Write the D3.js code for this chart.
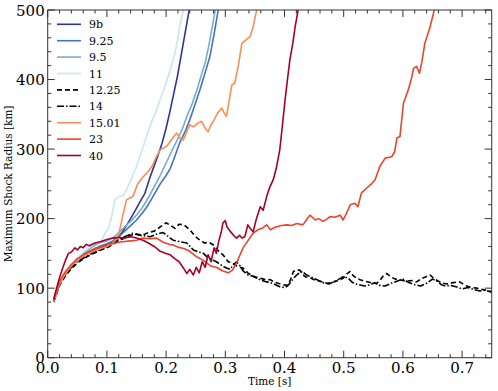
<!DOCTYPE html>
<html><head><meta charset="utf-8">
<script src="https://cdn.jsdelivr.net/npm/d3@7"></script>
<style>body{margin:0;background:#fff}svg{display:block}text{font-family:"DejaVu Serif",serif;fill:#000}</style>
</head><body><svg id="c" width="498" height="391"></svg>
<script>
const seriesNames = ["9b","9.25","9.5","11","12.25","14","15.01","23","40"];
const seriesColors = ["#313695","#4575b4","#74add1","#c6e6f1","#000000","#000000","#f98e52","#e8432e","#a50026"];
const seriesDash = [null,null,null,null,"5,3","7,2,1.5,2",null,null,null];
const xTicks = [0,0.1,0.2,0.3,0.4,0.5,0.6,0.7];
const yTicks = [0,100,200,300,400,500];

const s9b = [[0.010,82],[0.015,95],[0.02,108],[0.03,122],[0.04,133],[0.05,141],[0.06,147],[0.07,151],[0.08,155],[0.09,158],[0.10,162],[0.11,166],[0.12,174],[0.13,186],[0.14,200],[0.148,212],[0.157,226],[0.164,236],[0.173,260],[0.183,283],[0.193,308],[0.2,330],[0.207,356],[0.213,380],[0.219,404],[0.224,428],[0.229,452],[0.234,476],[0.239,500]];
const s925 = [[0.01,81],[0.015,93],[0.02,106],[0.03,121],[0.04,132],[0.05,140],[0.06,147],[0.07,152],[0.08,157],[0.09,161],[0.1,164],[0.11,168],[0.12,174],[0.13,182],[0.14,190],[0.15,198],[0.16,208],[0.17,220],[0.18,235],[0.19,250],[0.2,262],[0.207,272],[0.215,290],[0.223,309],[0.232,325],[0.24,342],[0.248,362],[0.257,385],[0.266,410],[0.274,433],[0.281,465],[0.288,500]];
const s95 = [[0.01,80],[0.015,94],[0.02,107],[0.03,122],[0.04,134],[0.05,143],[0.06,150],[0.07,156],[0.08,162],[0.09,166],[0.1,168],[0.11,172],[0.12,180],[0.13,188],[0.14,196],[0.15,205],[0.16,216],[0.17,230],[0.18,246],[0.19,262],[0.2,280],[0.21,298],[0.22,315],[0.228,330],[0.235,347],[0.244,365],[0.252,385],[0.259,405],[0.266,424],[0.272,448],[0.278,476],[0.283,500]];
const s11 = [[0.01,80],[0.015,94],[0.02,107],[0.03,122],[0.04,134],[0.05,143],[0.06,152],[0.07,158],[0.08,165],[0.09,167],[0.097,179],[0.103,186],[0.108,203],[0.114,228],[0.122,232],[0.128,233],[0.133,241],[0.14,255],[0.15,275],[0.158,295],[0.167,318],[0.175,338],[0.184,356],[0.19,372],[0.198,390],[0.207,414],[0.215,438],[0.219,455],[0.223,476],[0.229,500]];
const s1225 = [[0.01,80],[0.015,92],[0.02,104],[0.03,118],[0.04,128],[0.05,136],[0.06,142],[0.07,147],[0.08,151],[0.09,155],[0.1,158],[0.11,163],[0.12,168],[0.13,172],[0.14,176],[0.15,178],[0.16,176],[0.17,180],[0.18,182],[0.19,188],[0.2,194],[0.208,190],[0.215,186],[0.222,192],[0.23,191],[0.24,184],[0.25,174],[0.257,169],[0.265,165],[0.272,166],[0.28,162],[0.29,152],[0.296,148],[0.305,138],[0.313,136],[0.32,131],[0.33,129],[0.338,122],[0.347,117],[0.355,115],[0.365,113],[0.376,112],[0.385,108],[0.398,105],[0.405,104],[0.41,112],[0.415,124],[0.42,126],[0.426,126],[0.43,120],[0.436,116],[0.443,115],[0.45,112],[0.46,110],[0.471,107],[0.48,108],[0.494,112],[0.5,115],[0.506,121],[0.511,124],[0.516,118],[0.522,114],[0.528,112],[0.536,110],[0.545,108],[0.556,107],[0.562,112],[0.567,118],[0.573,121],[0.58,116],[0.587,113],[0.595,112],[0.605,110],[0.615,111],[0.623,109],[0.632,114],[0.638,116],[0.646,119],[0.652,114],[0.66,110],[0.668,107],[0.675,106],[0.685,108],[0.696,109],[0.705,104],[0.715,101],[0.725,100],[0.735,98],[0.745,96],[0.75,95]];
const s14 = [[0.01,80],[0.015,93],[0.02,106],[0.03,120],[0.04,130],[0.05,138],[0.06,143],[0.07,148],[0.08,152],[0.09,156],[0.1,160],[0.11,165],[0.12,170],[0.13,174],[0.144,179],[0.155,176],[0.165,175],[0.173,174],[0.185,178],[0.195,180],[0.207,172],[0.212,169],[0.222,167],[0.235,165],[0.246,155],[0.255,152],[0.263,150],[0.269,145],[0.277,141],[0.285,138],[0.295,132],[0.302,129],[0.308,127],[0.313,133],[0.319,138],[0.325,132],[0.33,125],[0.338,119],[0.347,117],[0.359,112],[0.37,109],[0.38,107],[0.392,102],[0.4,101],[0.405,103],[0.41,108],[0.416,115],[0.422,120],[0.43,124],[0.437,119],[0.445,116],[0.455,112],[0.465,108],[0.475,106],[0.485,110],[0.492,113],[0.5,117],[0.508,114],[0.515,108],[0.525,105],[0.535,103],[0.545,105],[0.552,108],[0.56,104],[0.57,103],[0.58,107],[0.59,110],[0.6,113],[0.61,108],[0.62,105],[0.63,103],[0.64,107],[0.65,113],[0.658,110],[0.665,105],[0.672,103],[0.68,104],[0.69,102],[0.7,99],[0.71,101],[0.72,98],[0.73,96],[0.74,97],[0.75,94]];
const s1501 = [[0.01,80],[0.015,93],[0.02,106],[0.03,121],[0.04,132],[0.05,140],[0.06,146],[0.07,150],[0.08,154],[0.09,157],[0.1,160],[0.11,165],[0.118,172],[0.122,185],[0.127,205],[0.133,227],[0.14,230],[0.144,232],[0.152,250],[0.161,260],[0.168,266],[0.176,275],[0.183,288],[0.19,299],[0.201,304],[0.208,312],[0.213,318],[0.218,323],[0.224,315],[0.229,313],[0.235,325],[0.24,335],[0.246,332],[0.253,337],[0.26,340],[0.266,330],[0.271,325],[0.276,335],[0.28,340],[0.287,352],[0.294,359],[0.298,352],[0.302,347],[0.307,372],[0.311,392],[0.316,395],[0.322,420],[0.328,452],[0.335,457],[0.342,462],[0.347,476],[0.353,500]];
const s23 = [[0.01,82],[0.015,96],[0.02,110],[0.03,124],[0.04,134],[0.05,142],[0.06,148],[0.07,153],[0.08,157],[0.09,160],[0.1,163],[0.11,164],[0.12,166],[0.13,167],[0.14,168],[0.15,169],[0.161,172],[0.172,171],[0.184,172],[0.195,166],[0.205,163],[0.212,162],[0.22,159],[0.23,157],[0.24,153],[0.25,146],[0.263,140],[0.275,132],[0.285,130],[0.295,125],[0.305,122],[0.312,126],[0.319,136],[0.325,148],[0.33,158],[0.338,168],[0.347,179],[0.355,184],[0.362,186],[0.37,191],[0.376,184],[0.385,188],[0.395,190],[0.404,191],[0.412,190],[0.421,193],[0.431,191],[0.437,198],[0.443,205],[0.452,198],[0.458,200],[0.465,196],[0.471,199],[0.477,203],[0.485,202],[0.494,205],[0.499,198],[0.505,208],[0.511,220],[0.519,222],[0.524,217],[0.53,237],[0.539,244],[0.547,250],[0.553,256],[0.561,275],[0.57,287],[0.581,289],[0.586,296],[0.59,316],[0.595,318],[0.601,366],[0.609,385],[0.614,400],[0.618,416],[0.623,419],[0.628,409],[0.632,425],[0.637,452],[0.646,476],[0.653,500]];
const s40 = [[0.01,84],[0.015,100],[0.02,115],[0.025,128],[0.03,140],[0.035,150],[0.04,152],[0.046,158],[0.05,155],[0.055,160],[0.06,158],[0.065,163],[0.07,161],[0.08,165],[0.09,167],[0.1,170],[0.11,172],[0.12,173],[0.13,172],[0.14,174],[0.15,172],[0.161,169],[0.17,165],[0.18,160],[0.19,153],[0.2,150],[0.207,148],[0.215,142],[0.222,138],[0.23,128],[0.235,121],[0.24,127],[0.246,119],[0.251,130],[0.256,122],[0.261,138],[0.266,130],[0.271,148],[0.276,138],[0.281,158],[0.285,150],[0.289,168],[0.293,180],[0.296,194],[0.3,197],[0.303,188],[0.308,182],[0.314,176],[0.319,172],[0.324,176],[0.328,172],[0.333,174],[0.338,191],[0.342,186],[0.347,181],[0.352,198],[0.359,217],[0.364,212],[0.37,232],[0.375,245],[0.381,256],[0.386,272],[0.392,299],[0.396,330],[0.401,371],[0.405,400],[0.409,428],[0.414,452],[0.418,476],[0.423,500]];
const seriesData = [s9b,s925,s95,s11,s1225,s14,s1501,s23,s40];

const svg = d3.select("#c");
const L = 47.7, R = 491.7, T = 10, B = 357.7;
const x = d3.scaleLinear().domain([0,0.75]).range([L,R]);
const y = d3.scaleLinear().domain([0,500]).range([B,T]);

svg.append("clipPath").attr("id","clip").append("rect").attr("x",L).attr("y",T).attr("width",R-L).attr("height",B-T);

const line = d3.line().x(d=>x(d[0])).y(d=>y(d[1]));
const g = svg.append("g").attr("clip-path","url(#clip)");
seriesData.forEach((d,i)=>{
  g.append("path").datum(d).attr("d",line).attr("fill","none")
   .attr("stroke",seriesColors[i]).attr("stroke-width",1.6)
   .attr("stroke-linejoin","round")
   .attr("stroke-dasharray",seriesDash[i]);
});

// frame
svg.append("rect").attr("x",L).attr("y",T).attr("width",R-L).attr("height",B-T)
  .attr("fill","none").attr("stroke","#333").attr("stroke-width",1);

const xMinor = d3.range(0,0.7501,0.02).filter(v=>Math.abs(v*10-Math.round(v*10))>1e-6);
const yMinor = d3.range(0,500.1,20).filter(v=>v%100!==0);
const tk = "#333";
// ticks inward
const ax = svg.append("g");
function xt(vals,len){vals.forEach(v=>{
  ax.append("line").attr("x1",x(v)).attr("x2",x(v)).attr("y1",B).attr("y2",B-len).attr("stroke",tk);
  ax.append("line").attr("x1",x(v)).attr("x2",x(v)).attr("y1",T).attr("y2",T+len).attr("stroke",tk);
});}
function yt(vals,len){vals.forEach(v=>{
  ax.append("line").attr("y1",y(v)).attr("y2",y(v)).attr("x1",L).attr("x2",L+len).attr("stroke",tk);
  ax.append("line").attr("y1",y(v)).attr("y2",y(v)).attr("x1",R).attr("x2",R-len).attr("stroke",tk);
});}
xt(xTicks,7); xt(xMinor,3.5); yt(yTicks,7); yt(yMinor,3.5);

xTicks.forEach(v=>{
  svg.append("text").attr("x",x(v)).attr("y",B+15).attr("text-anchor","middle")
    .attr("font-size",15).text(d3.format(".1f")(v));
});
yTicks.forEach(v=>{
  svg.append("text").attr("x",L-3).attr("y",y(v)+5.5).attr("text-anchor","end")
    .attr("font-size",15).text(v);
});
svg.append("text").attr("x",(L+R)/2).attr("y",385).attr("text-anchor","middle")
  .attr("font-size",10.5).text("Time [s]");
svg.append("text").attr("transform",`translate(12,${(T+B)/2}) rotate(-90)`)
  .attr("text-anchor","middle").attr("font-size",10.5).text("Maximum Shock Radius [km]");

// legend
seriesNames.forEach((n,i)=>{
  const yy = 24.3 + i*16.4;
  svg.append("line").attr("x1",57).attr("x2",81).attr("y1",yy).attr("y2",yy)
    .attr("stroke",seriesColors[i]).attr("stroke-width",1.6).attr("stroke-dasharray",seriesDash[i]);
  svg.append("text").attr("x",89).attr("y",yy+4).attr("font-size",11).text(n);
});
</script></body></html>
